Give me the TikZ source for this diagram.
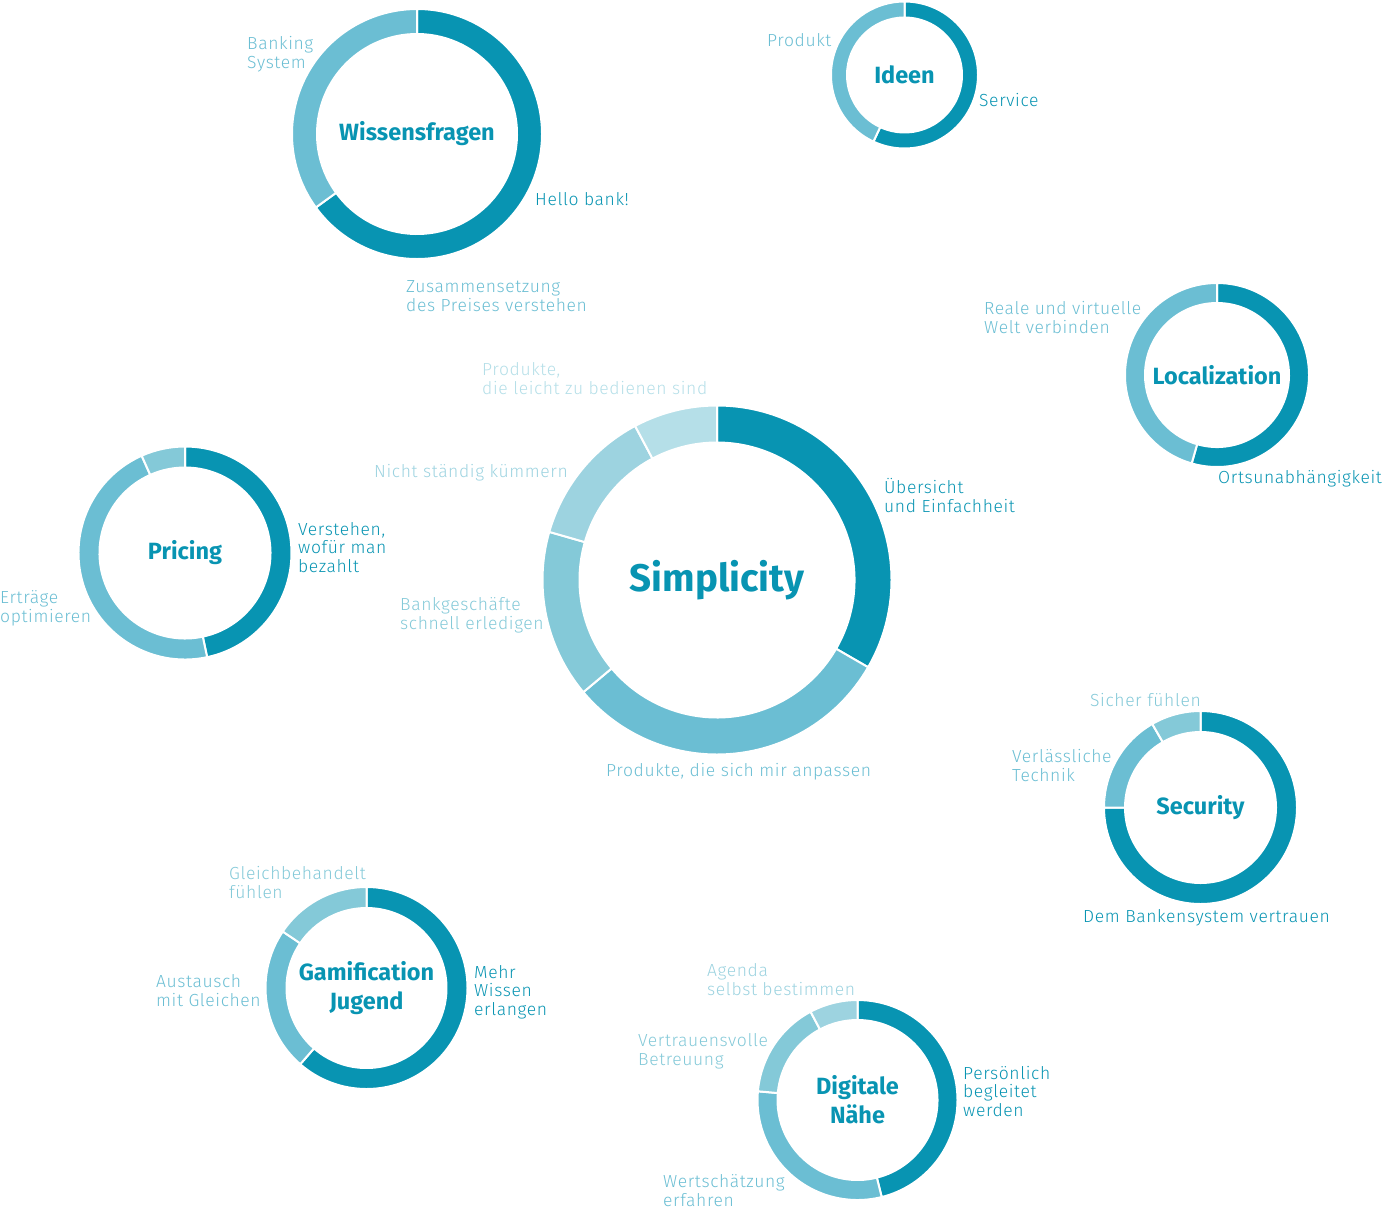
\documentclass[tikz,border=0pt]{standalone}
\usepackage{fontspec}
\setmainfont{Fira Sans}[UprightFont=* Light, BoldFont=* Bold]
\newfontfamily\notefont{Fira Sans}[UprightFont=* Light, LetterSpace=3.5]
\usepackage{tikz}
\definecolor{petrol}{HTML}{0894B2}
\definecolor{tealA}{HTML}{6BBED3}
\definecolor{tealB}{HTML}{84C9D8}
\definecolor{tealC}{HTML}{9DD3E0}
\definecolor{tealD}{HTML}{B5DFE8}
\tikzstyle{ringtitle} = [font=\bfseries\fontsize{23.5}{29}\selectfont, text=petrol, align=center, inner sep=0pt]
\tikzstyle{note} = [font=\notefont\fontsize{17.5}{18.2}\selectfont, align=left, anchor=base west, inner sep=0pt]
% one coloured piece of a ring: centre node, outer radius, width, from, to, colour
\newcommand{\ringpart}[6]{%
  \fill[#6, draw=white, line width=2pt] (#1.center) ++({#4}:{#2pt+1pt})
    arc[start angle=#4, end angle=#5, radius=#2pt+1pt] -- ++({#5}:{-#3pt-2pt})
    arc[start angle=#5, end angle=#4, radius=#2pt-#3pt-1pt] -- cycle;}

\begin{document}
\begin{tikzpicture}[x=1pt, y=1pt]
        \useasboundingbox (0,-1210) rectangle (1383,0);
        % ring centres with their titles
        \node[ringtitle, font=\bfseries\fontsize{38.5}{40}\selectfont] at (717,-580) (simp) {Simplicity};
        \node[ringtitle] at (417,-134) (wiss) {Wissensfragen};
        \node[ringtitle] at (904.5,-75) (ideen) {Ideen};
        \node[ringtitle] at (1217,-375) (loc) {Localization};
        \node[ringtitle] at (185,-553) (pric) {Pricing};
        \node[ringtitle] at (1200.5,-807.5) (secu) {Security};
        \node[ringtitle] at (366.5,-988) (gami) {Gamification\\Jugend};
        \node[ringtitle] at (857.5,-1100) (digi) {Digitale\\Nähe};

        % rings
        \ringpart{simp}{173.5}{35}{90}{-30}{petrol}
        \ringpart{simp}{173.5}{35}{-30}{-140}{tealA}
        \ringpart{simp}{173.5}{35}{-140}{-196}{tealB}
        \ringpart{simp}{173.5}{35}{-196}{-242}{tealC}
        \ringpart{simp}{173.5}{35}{-242}{-270}{tealD}
        \ringpart{wiss}{124}{23}{90}{-144}{petrol}
        \ringpart{wiss}{124}{23}{-144}{-270}{tealA}
        \ringpart{ideen}{72.5}{14}{90}{-115}{petrol}
        \ringpart{ideen}{72.5}{14}{-115}{-270}{tealA}
        \ringpart{loc}{91}{18}{90}{-106}{petrol}
        \ringpart{loc}{91}{18}{-106}{-270}{tealA}
        \ringpart{pric}{105.5}{19}{90}{-78}{petrol}
        \ringpart{pric}{105.5}{19}{-78}{-246}{tealA}
        \ringpart{pric}{105.5}{19}{-246}{-270}{tealB}
        \ringpart{secu}{95.5}{19}{90}{-180}{petrol}
        \ringpart{secu}{95.5}{19}{-180}{-240}{tealA}
        \ringpart{secu}{95.5}{19}{-240}{-270}{tealB}
        \ringpart{gami}{100}{19}{90}{-131}{petrol}
        \ringpart{gami}{100}{19}{-131}{-214}{tealA}
        \ringpart{gami}{100}{19}{-214}{-270}{tealB}
        \ringpart{digi}{99}{18}{90}{-76}{petrol}
        \ringpart{digi}{99}{18}{-76}{-185}{tealA}
        \ringpart{digi}{99}{18}{-185}{-242}{tealB}
        \ringpart{digi}{99}{18}{-242}{-270}{tealC}

        % labels (placed at the baseline of their last line)
        \node[note, text=tealA] at (247,-68) (wissA) {Banking\\System};
        \node[note, text=petrol] at (535,-205) (wissB) {Hello bank!};
        \node[note, text=tealA] at (406,-311) (wissC) {Zusammensetzung\\des Preises verstehen};
        \node[note, text=tealA] at (767,-46) (ideenA) {Produkt};
        \node[note, text=petrol] at (979,-106) (ideenB) {Service};
        \node[note, text=tealA] at (984,-333) (locA) {Reale und virtuelle\\Welt verbinden};
        \node[note, text=petrol] at (1218,-483) (locB) {Ortsunabhängigkeit};
        \node[note, text=tealD] at (482,-394) (simpA) {Produkte,\\die leicht zu bedienen sind};
        \node[note, text=tealC] at (374,-477) (simpB) {Nicht ständig kümmern};
        \node[note, text=petrol] at (884,-512) (simpC) {Übersicht\\und Einfachheit};
        \node[note, text=tealB] at (400,-629) (simpD) {Bankgeschäfte\\schnell erledigen};
        \node[note, text=tealA] at (606,-776) (simpE) {Produkte, die sich mir anpassen};
        \node[note, text=petrol] at (298,-572) (pricA) {Verstehen,\\wofür man\\bezahlt};
        \node[note, text=tealA] at (0,-622) (pricB) {Erträge\\optimieren};
        \node[note, text=tealB] at (1090,-706) (secuA) {Sicher fühlen};
        \node[note, text=tealA] at (1012,-781) (secuB) {Verlässliche\\Technik};
        \node[note, text=petrol] at (1083,-922) (secuC) {Dem Bankensystem vertrauen};
        \node[note, text=tealB] at (229,-898) (gamiA) {Gleichbehandelt\\fühlen};
        \node[note, text=tealA] at (156,-1006) (gamiB) {Austausch\\mit Gleichen};
        \node[note, text=petrol] at (474,-1015) (gamiC) {Mehr\\Wissen\\erlangen};
        \node[note, text=tealC] at (707,-995) (digiA) {Agenda\\selbst bestimmen};
        \node[note, text=tealB] at (638,-1065) (digiB) {Vertrauensvolle\\Betreuung};
        \node[note, text=petrol] at (963,-1116) (digiC) {Persönlich\\begleitet\\werden};
        \node[note, text=tealA] at (663,-1206) (digiD) {Wertschätzung\\erfahren};
\end{tikzpicture}
\end{document}
